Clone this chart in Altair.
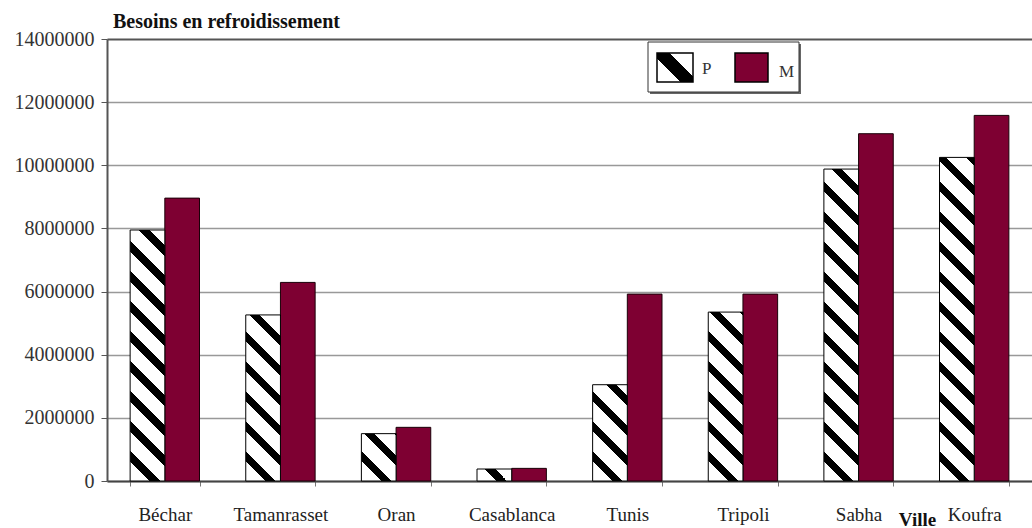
import math
import altair as alt
import pandas as pd

# ---- data ----
cities = ["Béchar", "Tamanrasset", "Oran", "Casablanca", "Tunis", "Tripoli", "Sabha", "Koufra"]
series = ["P", "M"]
p_values = [7950000, 5260000, 1500000, 380000, 3050000, 5350000, 9880000, 10250000]
m_values = [8960000, 6290000, 1700000, 400000, 5920000, 5920000, 11000000, 11580000]
y_ticks = [0, 2000000, 4000000, 6000000, 8000000, 10000000, 12000000, 14000000]
chart_title = "Besoins en refroidissement"
x_title = "Ville"

W, H = 925, 442
YMAX = 14000000
PAD_INNER, PAD_OUTER = 0.4, 0.2
FONT = "Liberation Serif"
CRIMSON = "#7e0032"

rows = []
for c, p, m in zip(cities, p_values, m_values):
    rows.append({"city": c, "series": "P", "value": p})
    rows.append({"city": c, "series": "M", "value": m})
df = pd.DataFrame(rows)

step = W / (len(cities) - PAD_INNER + 2 * PAD_OUTER)
bar_w = step * (1 - PAD_INNER) / 2


def hatch(w, h, period=30.0, frac=0.34, stops=None):
    """Diagonal '\\' stripes as a linear gradient in bounding-box units."""
    c = (w + h) / (w * w + h * h)
    if stops is None:
        n = (w + h) / period
        stops = []
        k = 0
        while k / n < 1:
            s = k / n
            mid = min((k + 1 - frac) / n, 1)
            e = min((k + 1) / n, 1)
            stops += [
                {"offset": round(s, 5), "color": "#ffffff"},
                {"offset": round(mid, 5), "color": "#ffffff"},
                {"offset": round(mid, 5), "color": "#000000"},
                {"offset": round(e, 5), "color": "#000000"},
            ]
            k += 1
    return {
        "gradient": "linear",
        "x1": 0, "y1": 1,
        "x2": round(c * w, 5), "y2": round(1 - c * h, 5),
        "stops": stops,
    }


x_scale = alt.Scale(domain=cities, paddingInner=PAD_INNER, paddingOuter=PAD_OUTER)
y_scale = alt.Scale(domain=[0, YMAX], nice=False)
off_scale = alt.Scale(domain=series)

x_axis = alt.Axis(
    title=x_title, labelAngle=0, labelFont=FONT, labelFontSize=19, labelColor="#222",
    labelBaseline="alphabetic", labelPadding=34, tickBand="extent", tickSize=5,
    tickColor="#777", domainColor="#444", domainWidth=2, grid=False,
    titleFont=FONT, titleFontSize=19, titleFontWeight="bold", titleColor="#111",
    titleX=810, titleY=44, titleAlign="center", titleBaseline="alphabetic",
)
y_axis = alt.Axis(
    title=None, values=y_ticks, format="d", labelFont=FONT, labelFontSize=20,
    labelColor="#333", labelPadding=7, tickSize=6, tickColor="#555",
    domainColor="#555", domainWidth=2,
    gridColor={"condition": {"test": "datum.value == 14000000", "value": "#555"}, "value": "#999"},
    gridWidth={"condition": {"test": "datum.value == 14000000", "value": 2}, "value": 1.5},
)

X = alt.X("city:N", scale=x_scale, axis=x_axis, sort=cities)
Y = alt.Y("value:Q", scale=y_scale, axis=y_axis)
XO = alt.XOffset("series:N", scale=off_scale)

layers = []

# M bars (solid crimson)
m_layer = alt.Chart(df).transform_filter(alt.datum.series == "M").mark_bar(
    fill=CRIMSON, stroke="#1a0008", strokeWidth=1
).encode(x=X, xOffset=XO, y=Y)
layers.append(m_layer)

# P bars (hatched), one per city so stripe spacing stays constant
for c, v in zip(cities, p_values):
    h = v / YMAX * H
    lay = alt.Chart(df).transform_filter(
        (alt.datum.series == "P") & (alt.datum.city == c)
    ).mark_bar(stroke="#000", strokeWidth=1).encode(
        x=X, xOffset=XO, y=Y, fill=alt.value(hatch(bar_w, h)),
    )
    layers.append(lay)

# ---- legend box (drawn by hand to show the hatch) ----
leg_df = pd.DataFrame({"series": series})
one = leg_df.head(1)
shadow = alt.Chart(one).mark_rect(fill="#666").encode(
    x=alt.value(543), x2=alt.value(694), y=alt.value(5), y2=alt.value(55))
box = alt.Chart(one).mark_rect(fill="#fff", stroke="#333", strokeWidth=1).encode(
    x=alt.value(541), x2=alt.value(692), y=alt.value(3), y2=alt.value(53))
leg_stops = [
    {"offset": 0, "color": "#fff"}, {"offset": 0.36, "color": "#fff"},
    {"offset": 0.36, "color": "#000"}, {"offset": 0.64, "color": "#000"},
    {"offset": 0.64, "color": "#fff"}, {"offset": 1, "color": "#fff"},
]
sw_p = alt.Chart(one).mark_rect(stroke="#000", strokeWidth=1.5).encode(
    x=alt.value(550), x2=alt.value(586), y=alt.value(14), y2=alt.value(43),
    fill=alt.value(hatch(36, 29, stops=leg_stops)))
sw_m = alt.Chart(one).mark_rect(fill=CRIMSON, stroke="#000", strokeWidth=1.5).encode(
    x=alt.value(628), x2=alt.value(661), y=alt.value(14), y2=alt.value(43))
txt_p = alt.Chart(leg_df).transform_filter(alt.datum.series == "P").mark_text(
    font=FONT, fontSize=17, align="left", baseline="alphabetic", color="#333"
).encode(x=alt.value(595), y=alt.value(35), text="series:N")
txt_m = alt.Chart(leg_df).transform_filter(alt.datum.series == "M").mark_text(
    font=FONT, fontSize=17, align="left", baseline="alphabetic", color="#333"
).encode(x=alt.value(672), y=alt.value(38), text="series:N")

# chart title as a text mark just above the frame
title_mark = alt.Chart(one).mark_text(
    font=FONT, fontSize=20, fontWeight="bold", align="left", baseline="alphabetic", color="#111"
).encode(x=alt.value(6), y=alt.value(-11), text=alt.value(chart_title))

layers += [shadow, box, sw_p, sw_m, txt_p, txt_m, title_mark]

chart = alt.layer(*layers).properties(
    width=W, height=H,
    padding={"left": 107, "top": 39, "right": 0, "bottom": 47},
    autosize=alt.AutoSizeParams(type="none"),
).configure_view(strokeWidth=0).configure(background="white")

chart.save("out.html", embed_options={"renderer": "svg", "actions": False})
